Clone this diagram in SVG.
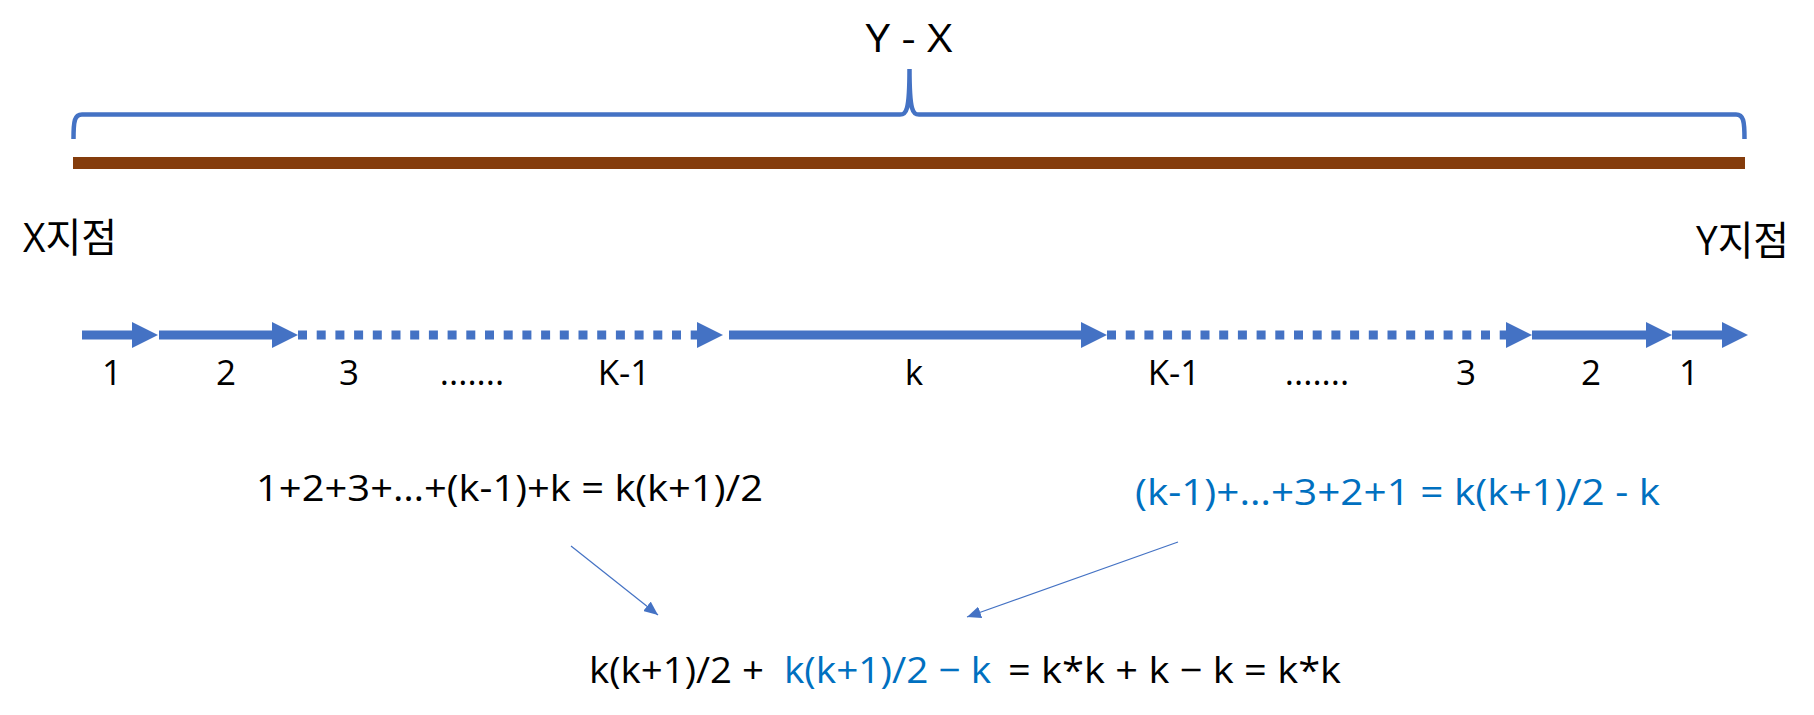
<svg xmlns="http://www.w3.org/2000/svg" width="1814" height="715" viewBox="0 0 1814 715">
<style>
  text { font-family: "Open Sans", "Noto Sans CJK KR", sans-serif; fill: #000; }
  .lbl { font-size: 35px; text-anchor: middle; }
  .frm { font-size: 37px; }
  .blue { fill: #0070C0; }
  .thick { stroke: #4472C4; stroke-width: 9; fill: none; }
  .dash { stroke-dasharray: 9 9.7; }
  .thin { stroke: #4472C4; stroke-width: 1.2; fill: none; }
</style>
<defs>
  <marker id="bigHead" markerUnits="userSpaceOnUse" markerWidth="26" markerHeight="26" refX="0" refY="13" orient="auto" viewBox="0 0 26 26">
    <path d="M0,0 L26,13 L0,26 Z" fill="#4472C4"/>
  </marker>
  <marker id="smallHead" markerUnits="userSpaceOnUse" markerWidth="14" markerHeight="12" refX="14" refY="6" orient="auto" viewBox="0 0 14 12">
    <path d="M0,0 L14,6 L0,12 Z" fill="#4472C4"/>
  </marker>
</defs>
<rect width="1814" height="715" fill="#fff"/>

<g id="span-label">
  <text x="909" y="52" font-size="38" text-anchor="middle" textLength="87" lengthAdjust="spacingAndGlyphs">Y - X</text>
</g>
<g id="brace">
  <path d="M73.5,139 C73.5,121 74.5,114.5 82,114.5 L900,114.5 C906,114.5 909.5,112 909.5,69 C909.5,112 913,114.5 919,114.5 L1736,114.5 C1743.5,114.5 1744.5,121 1744.5,139" stroke="#4472C4" stroke-width="4.5" fill="none"/>
</g>
<g id="road">
  <rect x="73" y="157" width="1672" height="12" fill="#843C0C"/>
</g>
<g id="point-x">
  <text x="23" y="252" font-size="40" textLength="94" lengthAdjust="spacingAndGlyphs">X지점</text>
</g>
<g id="point-y">
  <text x="1696" y="255" font-size="40" textLength="93" lengthAdjust="spacingAndGlyphs">Y지점</text>
</g>

<g id="steps">
  <line class="thick" x1="82" y1="335" x2="132" y2="335" marker-end="url(#bigHead)"/>
  <line class="thick" x1="159" y1="335" x2="272" y2="335" marker-end="url(#bigHead)"/>
  <line class="thick dash" x1="298" y1="335" x2="697" y2="335" marker-end="url(#bigHead)"/>
  <line class="thick" x1="729" y1="335" x2="1081" y2="335" marker-end="url(#bigHead)"/>
  <line class="thick dash" x1="1107" y1="335" x2="1506" y2="335" marker-end="url(#bigHead)"/>
  <line class="thick" x1="1532" y1="335" x2="1646" y2="335" marker-end="url(#bigHead)"/>
  <line class="thick" x1="1672" y1="335" x2="1722" y2="335" marker-end="url(#bigHead)"/>
</g>
<g id="step-labels">
  <text class="lbl" x="112" y="385">1</text>
  <text class="lbl" x="226" y="385">2</text>
  <text class="lbl" x="349" y="385">3</text>
  <text class="lbl" x="472" y="385">.......</text>
  <text class="lbl" x="624" y="385">K-1</text>
  <text class="lbl" x="914" y="385">k</text>
  <text class="lbl" x="1174" y="385">K-1</text>
  <text class="lbl" x="1317" y="385">.......</text>
  <text class="lbl" x="1466" y="385">3</text>
  <text class="lbl" x="1591" y="385">2</text>
  <text class="lbl" x="1689" y="385">1</text>
</g>

<g id="sum-left">
  <text class="frm" x="256" y="501" textLength="507" lengthAdjust="spacingAndGlyphs">1+2+3+…+(k-1)+k = k(k+1)/2</text>
</g>
<g id="sum-right">
  <text class="frm blue" x="1135" y="505" textLength="525" lengthAdjust="spacingAndGlyphs">(k-1)+…+3+2+1 = k(k+1)/2 - k</text>
</g>
<g id="result">
  <text class="frm" x="589" y="683" textLength="175" lengthAdjust="spacingAndGlyphs">k(k+1)/2 +</text>
  <text class="frm blue" x="784" y="683" textLength="207" lengthAdjust="spacingAndGlyphs">k(k+1)/2 − k</text>
  <text class="frm" x="1008" y="683" textLength="333" lengthAdjust="spacingAndGlyphs">= k*k + k − k = k*k</text>
</g>

<g id="connectors">
  <line class="thin" x1="571" y1="546" x2="658" y2="615" marker-end="url(#smallHead)"/>
  <line class="thin" x1="1178" y1="542" x2="967" y2="617" marker-end="url(#smallHead)"/>
</g>
</svg>
